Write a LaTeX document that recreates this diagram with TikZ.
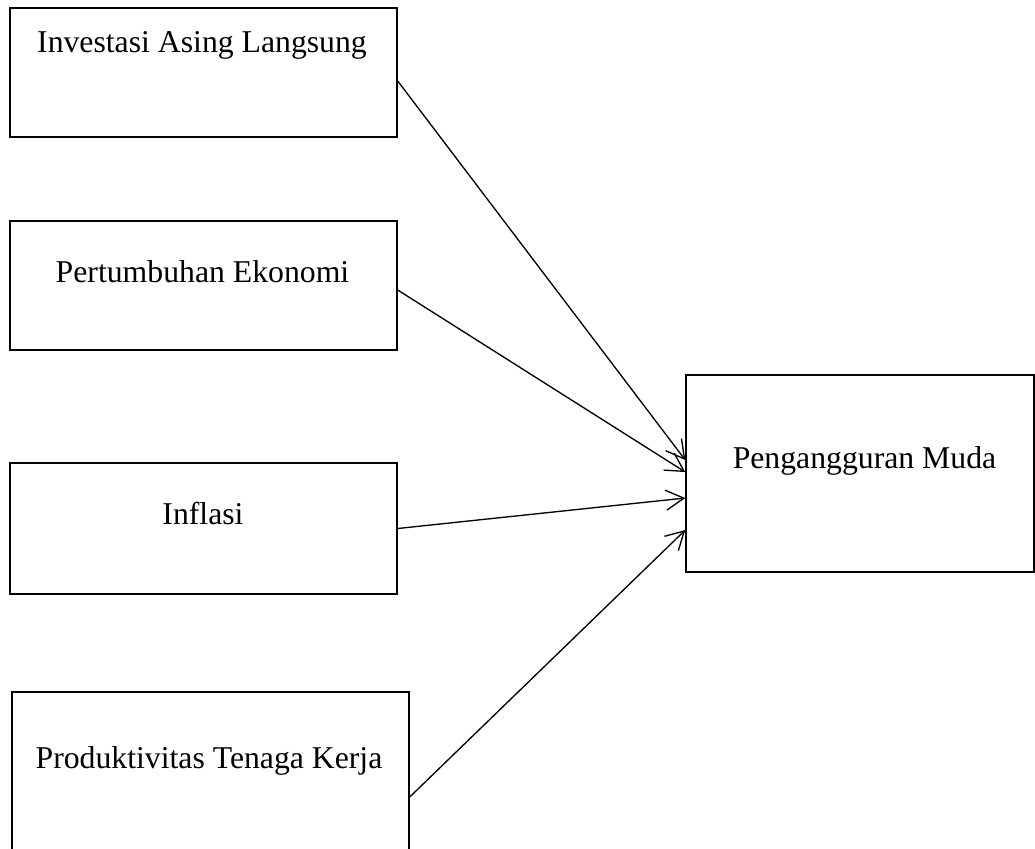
\documentclass[tikz,border=0pt]{standalone}
\usepackage{fontspec}
\setmainfont{Liberation Serif}
\usetikzlibrary{arrows.meta}
\begin{document}
\begin{tikzpicture}[x=0.75pt,y=-0.75pt,
  box/.style={draw=black, line width=1.1pt, inner sep=0pt, fill=none},
  lbl/.style={anchor=base, inner sep=0pt, font=\fontsize{23.8}{28}\selectfont},
  conn/.style={draw=black, line width=1pt, -{Straight Barb[length=13.5pt,width=15pt,line width=1pt]}}]
\useasboundingbox (0,0) rectangle (1035,849);
\clip (0,0) rectangle (1035,849);
\node[box, minimum width=290.25pt, minimum height=96.75pt] (b1) at (203.5,72.5) {};
\node[box, minimum width=290.25pt, minimum height=96.75pt] (b2) at (203.5,285.5) {};
\node[box, minimum width=290.25pt, minimum height=98.25pt] (b3) at (203.5,528.5) {};
\node[box, minimum width=297.75pt, minimum height=157.5pt] (b4) at (210.5,797) {};
\node[box, minimum width=261pt, minimum height=147.75pt] (b5) at (860,473.5) {};
\node[lbl] (t1) at (202,53) {Investasi Asing Langsung};
\node[lbl] (t2) at (202.5,282) {Pertumbuhan Ekonomi};
\node[lbl] (t3) at (203,524) {Inflasi};
\node[lbl] (t4) at (209,768) {Produktivitas Tenaga Kerja};
\node[lbl] (t5) at (864.5,468) {Pengangguran Muda};
\draw[conn] ([yshift=-6.4pt]b1.east) -- ([yshift=10.1pt]b5.west);
\draw[conn] ([yshift=-3.4pt]b2.east) -- ([yshift=1.1pt]b5.west);
\draw[conn] (b3.east) -- ([yshift=-18.4pt]b5.west);
\draw[conn] (b4.east) -- ([yshift=-42.4pt]b5.west);
\end{tikzpicture}
\end{document}
